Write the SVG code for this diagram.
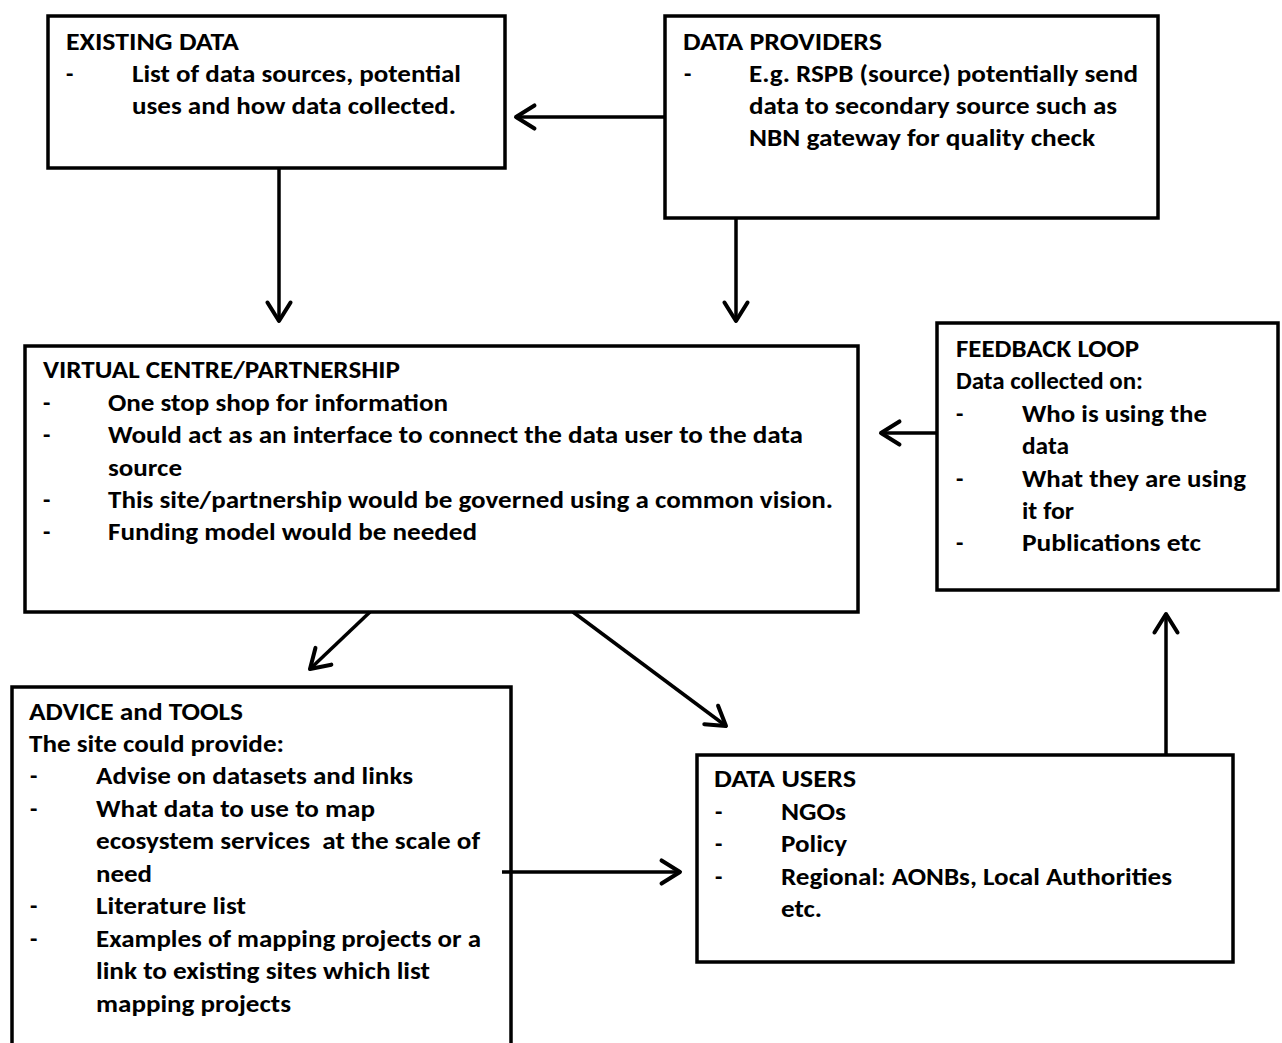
<svg xmlns="http://www.w3.org/2000/svg" width="1282" height="1043" viewBox="0 0 1282 1043">
<style>
.box{fill:#fff;stroke:#000;stroke-width:3.5}
.t{font-family:Carlito,Lato,"Liberation Sans",sans-serif;font-weight:bold;font-size:24px;fill:#000}
.c{stroke:#000;stroke-width:3.5;fill:none;marker-end:url(#ah)}
</style>
<defs>
<marker id="ah" markerUnits="userSpaceOnUse" markerWidth="30" markerHeight="30" viewBox="-20 -13 26 26" refX="0" refY="0" orient="auto">
<path d="M-16,-10 L0,0 L-16,10" fill="none" stroke="#000" stroke-width="3.5" stroke-linejoin="round" stroke-linecap="round"/>
</marker>
</defs>
<rect width="1282" height="1043" fill="#fff"/>

<g id="existing-data">
<rect class="box" x="48" y="16" width="457" height="152"/>
<text class="t" x="66" y="50" textLength="173" lengthAdjust="spacingAndGlyphs">EXISTING DATA</text>
<text class="t" x="66" y="82">-</text>
<text class="t" x="132" y="82" textLength="329" lengthAdjust="spacingAndGlyphs">List of data sources, potential</text>
<text class="t" x="132" y="114" textLength="324" lengthAdjust="spacingAndGlyphs">uses and how data collected.</text>
</g>

<g id="data-providers">
<rect class="box" x="665" y="16" width="493" height="202"/>
<text class="t" x="683" y="50" textLength="199" lengthAdjust="spacingAndGlyphs">DATA PROVIDERS</text>
<text class="t" x="684" y="82">-</text>
<text class="t" x="749" y="82" textLength="389" lengthAdjust="spacingAndGlyphs">E.g. RSPB (source) potentially send</text>
<text class="t" x="749" y="114" textLength="368" lengthAdjust="spacingAndGlyphs">data to secondary source such as</text>
<text class="t" x="749" y="146" textLength="346" lengthAdjust="spacingAndGlyphs">NBN gateway for quality check</text>
</g>

<g id="virtual-centre">
<rect class="box" x="25" y="346" width="833" height="266"/>
<text class="t" x="43" y="378" textLength="357" lengthAdjust="spacingAndGlyphs">VIRTUAL CENTRE/PARTNERSHIP</text>
<text class="t" x="43" y="411">-</text>
<text class="t" x="108" y="411" textLength="340" lengthAdjust="spacingAndGlyphs">One stop shop for information</text>
<text class="t" x="43" y="443">-</text>
<text class="t" x="108" y="443" textLength="695" lengthAdjust="spacingAndGlyphs">Would act as an interface to connect the data user to the data</text>
<text class="t" x="108" y="476" textLength="74" lengthAdjust="spacingAndGlyphs">source</text>
<text class="t" x="43" y="508">-</text>
<text class="t" x="108" y="508" textLength="725" lengthAdjust="spacingAndGlyphs">This site/partnership would be governed using a common vision.</text>
<text class="t" x="43" y="540">-</text>
<text class="t" x="108" y="540" textLength="369" lengthAdjust="spacingAndGlyphs">Funding model would be needed</text>
</g>

<g id="feedback-loop">
<rect class="box" x="937" y="323" width="341" height="267"/>
<text class="t" x="956" y="357" textLength="183" lengthAdjust="spacingAndGlyphs">FEEDBACK LOOP</text>
<text class="t" x="956" y="389" textLength="187" lengthAdjust="spacingAndGlyphs">Data collected on:</text>
<text class="t" x="956" y="422">-</text>
<text class="t" x="1022" y="422" textLength="185" lengthAdjust="spacingAndGlyphs">Who is using the</text>
<text class="t" x="1022" y="454" textLength="47" lengthAdjust="spacingAndGlyphs">data</text>
<text class="t" x="956" y="487">-</text>
<text class="t" x="1022" y="487" textLength="224" lengthAdjust="spacingAndGlyphs">What they are using</text>
<text class="t" x="1022" y="519" textLength="52" lengthAdjust="spacingAndGlyphs">it for</text>
<text class="t" x="956" y="551">-</text>
<text class="t" x="1022" y="551" textLength="179" lengthAdjust="spacingAndGlyphs">Publications etc</text>
</g>

<g id="advice-tools">
<rect class="box" x="12" y="687" width="499" height="400"/>
<text class="t" x="29" y="720" textLength="214" lengthAdjust="spacingAndGlyphs">ADVICE and TOOLS</text>
<text class="t" x="29" y="752" textLength="255" lengthAdjust="spacingAndGlyphs">The site could provide:</text>
<text class="t" x="30" y="784">-</text>
<text class="t" x="96" y="784" textLength="317" lengthAdjust="spacingAndGlyphs">Advise on datasets and links</text>
<text class="t" x="30" y="817">-</text>
<text class="t" x="96" y="817" textLength="279" lengthAdjust="spacingAndGlyphs">What data to use to map</text>
<text class="t" x="96" y="849" textLength="384" lengthAdjust="spacingAndGlyphs" xml:space="preserve">ecosystem services  at the scale of</text>
<text class="t" x="96" y="882" textLength="56" lengthAdjust="spacingAndGlyphs">need</text>
<text class="t" x="30" y="914">-</text>
<text class="t" x="96" y="914" textLength="150" lengthAdjust="spacingAndGlyphs">Literature list</text>
<text class="t" x="30" y="947">-</text>
<text class="t" x="96" y="947" textLength="385" lengthAdjust="spacingAndGlyphs">Examples of mapping projects or a</text>
<text class="t" x="96" y="979" textLength="334" lengthAdjust="spacingAndGlyphs">link to existing sites which list</text>
<text class="t" x="96" y="1012" textLength="195" lengthAdjust="spacingAndGlyphs">mapping projects</text>
</g>

<g id="data-users">
<rect class="box" x="697" y="755" width="536" height="207"/>
<text class="t" x="714" y="787" textLength="142" lengthAdjust="spacingAndGlyphs">DATA USERS</text>
<text class="t" x="715" y="820">-</text>
<text class="t" x="781" y="820" textLength="65" lengthAdjust="spacingAndGlyphs">NGOs</text>
<text class="t" x="715" y="852">-</text>
<text class="t" x="781" y="852" textLength="66" lengthAdjust="spacingAndGlyphs">Policy</text>
<text class="t" x="715" y="885">-</text>
<text class="t" x="781" y="885" textLength="391" lengthAdjust="spacingAndGlyphs">Regional: AONBs, Local Authorities</text>
<text class="t" x="781" y="917" textLength="41" lengthAdjust="spacingAndGlyphs">etc.</text>
</g>

<g id="connectors">
<line class="c" x1="665" y1="117" x2="516" y2="117"/>
<line class="c" x1="279" y1="168" x2="279" y2="321"/>
<line class="c" x1="736" y1="218" x2="736" y2="321"/>
<line class="c" x1="937" y1="433" x2="881" y2="433"/>
<line class="c" x1="370" y1="612" x2="310" y2="669"/>
<line class="c" x1="573" y1="612" x2="726" y2="726"/>
<line class="c" x1="502" y1="872" x2="680" y2="872"/>
<line class="c" x1="1166" y1="755" x2="1166" y2="614"/>
</g>
</svg>
